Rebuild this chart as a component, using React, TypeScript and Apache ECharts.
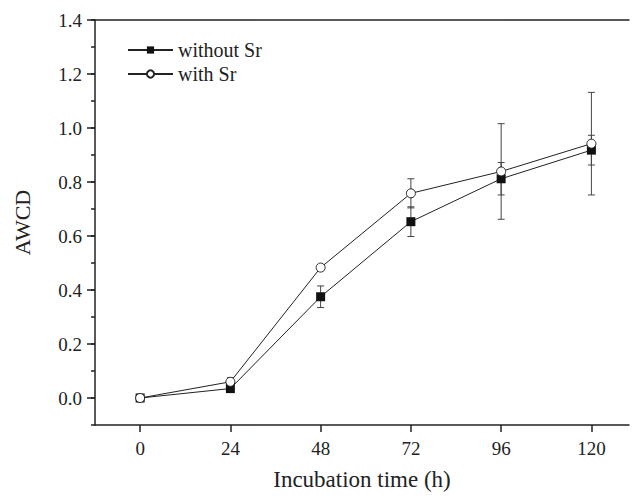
import React, { useEffect, useRef } from "react";
import * as echarts from "echarts";

const hours = [0, 24, 48, 72, 96, 120];
const withoutSr = [0, 0.035, 0.375, 0.653, 0.812, 0.918];
const withoutSrErr = [0.005, 0.015, 0.04, 0.055, 0.06, 0.055];
const withSr = [0, 0.06, 0.483, 0.758, 0.839, 0.942];
const withSrErr = [0.005, 0.015, 0.01, 0.054, 0.177, 0.19];
const yTicks = [0, 0.2, 0.4, 0.6, 0.8, 1.0, 1.2, 1.4];
const xTicks = [0, 24, 48, 72, 96, 120];

const FONT = "'Liberation Serif', 'Times New Roman', serif";
const tickText = { fontFamily: FONT, fontSize: 19, color: "#222" };

function errSeries(ys: number[], errs: number[], name: string) {
  return {
    type: "custom",
    name,
    xAxisIndex: 0,
    yAxisIndex: 0,
    z: 1,
    silent: true,
    data: hours.map((h, i) => [h, ys[i], errs[i]]),
    renderItem: (params: any, api: any) => {
      const x = api.value(0);
      const y = api.value(1);
      const e = api.value(2);
      const top = api.coord([x, y + e]);
      const bot = api.coord([x, y - e]);
      const w = 3.5;
      const style = { stroke: "#444", lineWidth: 1 };
      return {
        type: "group",
        children: [
          { type: "line", shape: { x1: top[0], y1: top[1], x2: bot[0], y2: bot[1] }, style },
          { type: "line", shape: { x1: top[0] - w, y1: top[1], x2: top[0] + w, y2: top[1] }, style },
          { type: "line", shape: { x1: bot[0] - w, y1: bot[1], x2: bot[0] + w, y2: bot[1] }, style },
        ],
      };
    },
  };
}

export default function App() {
  const ref = useRef<HTMLDivElement>(null);
  useEffect(() => {
    const chart = echarts.init(ref.current!, null, { renderer: "svg" });
    chart.setOption({
      animation: false,
      backgroundColor: "#fff",
      textStyle: { fontFamily: FONT, fontSize: 19 },
      grid: { left: 95, top: 20, right: 0, bottom: 67 },
      legend: {
        orient: "vertical",
        left: 127,
        top: 40,
        padding: 0,
        itemWidth: 45,
        itemHeight: 9,
        itemGap: 4,
        data: ["without Sr", "with Sr"],
        textStyle: { fontFamily: FONT, fontSize: 20, color: "#222" },
      },
      xAxis: [
        {
          type: "value",
          min: -12,
          max: 130,
          interval: 12,
          name: "Incubation time (h)",
          nameLocation: "middle",
          nameGap: 43,
          nameTextStyle: { fontFamily: FONT, fontSize: 23, color: "#222" },
          axisLine: { show: true, onZero: false, lineStyle: { color: "#222", width: 1.5 } },
          axisTick: { show: true, inside: false, length: 7, customValues: xTicks, lineStyle: { color: "#222", width: 1.5 } },
          axisLabel: {
            show: true,
            margin: 14,
            ...tickText,
            showMinLabel: true,
            showMaxLabel: true,
            formatter: (v: number) => {
              const r = Math.round(v);
              return r >= 0 && r % 24 === 0 && r <= 120 ? String(r) : "";
            },
          },
          splitLine: { show: false },
        },
        {
          type: "value",
          position: "top",
          min: -12,
          max: 130,
          axisLine: { show: true, onZero: false, lineStyle: { color: "#222", width: 1.5 } },
          axisTick: { show: false },
          axisLabel: { show: false },
          splitLine: { show: false },
        },
      ],
      yAxis: [
        {
          type: "value",
          min: -0.1,
          max: 1.4,
          interval: 0.1,
          name: "AWCD",
          nameLocation: "middle",
          nameGap: 62,
          nameTextStyle: { fontFamily: FONT, fontSize: 22, color: "#222" },
          axisLine: { show: true, onZero: false, lineStyle: { color: "#222", width: 1.5 } },
          axisTick: { show: true, length: 8, customValues: yTicks, lineStyle: { color: "#222", width: 1.5 } },
          axisLabel: {
            show: true,
            margin: 13,
            ...tickText,
            showMinLabel: true,
            showMaxLabel: true,
            formatter: (v: number) => {
              const r = Math.round(v * 10);
              return r >= 0 && r % 2 === 0 ? (r / 10).toFixed(1) : "";
            },
          },
          splitLine: { show: false },
        },
        {
          type: "value",
          min: -0.1,
          max: 1.4,
          interval: 0.1,
          position: "left",
          axisLine: { show: false, onZero: false },
          axisTick: { show: true, length: 4, lineStyle: { color: "#222", width: 1.5 } },
          axisLabel: { show: false },
          splitLine: { show: false },
        },
      ],
      series: [
        errSeries(withoutSr, withoutSrErr, "errWithout"),
        errSeries(withSr, withSrErr, "errWith"),
        {
          name: "without Sr",
          type: "line",
          z: 3,
          data: hours.map((h, i) => [h, withoutSr[i]]),
          symbol: "rect",
          symbolSize: 9,
          lineStyle: { color: "#222", width: 1 },
          itemStyle: { color: "#111", borderColor: "#111", borderWidth: 0 },
        },
        {
          name: "with Sr",
          type: "line",
          z: 4,
          data: hours.map((h, i) => [h, withSr[i]]),
          symbol: "circle",
          symbolSize: 9,
          showAllSymbol: true,
          lineStyle: { color: "#222", width: 1 },
          itemStyle: { color: "#fff", borderColor: "#222", borderWidth: 1 },
        },
      ],
    });
    return () => chart.dispose();
  }, []);
  return (
    <div
      ref={ref}
      style={{ position: "fixed", left: 0, top: 0, width: 632, height: 496 }}
    />
  );
}
